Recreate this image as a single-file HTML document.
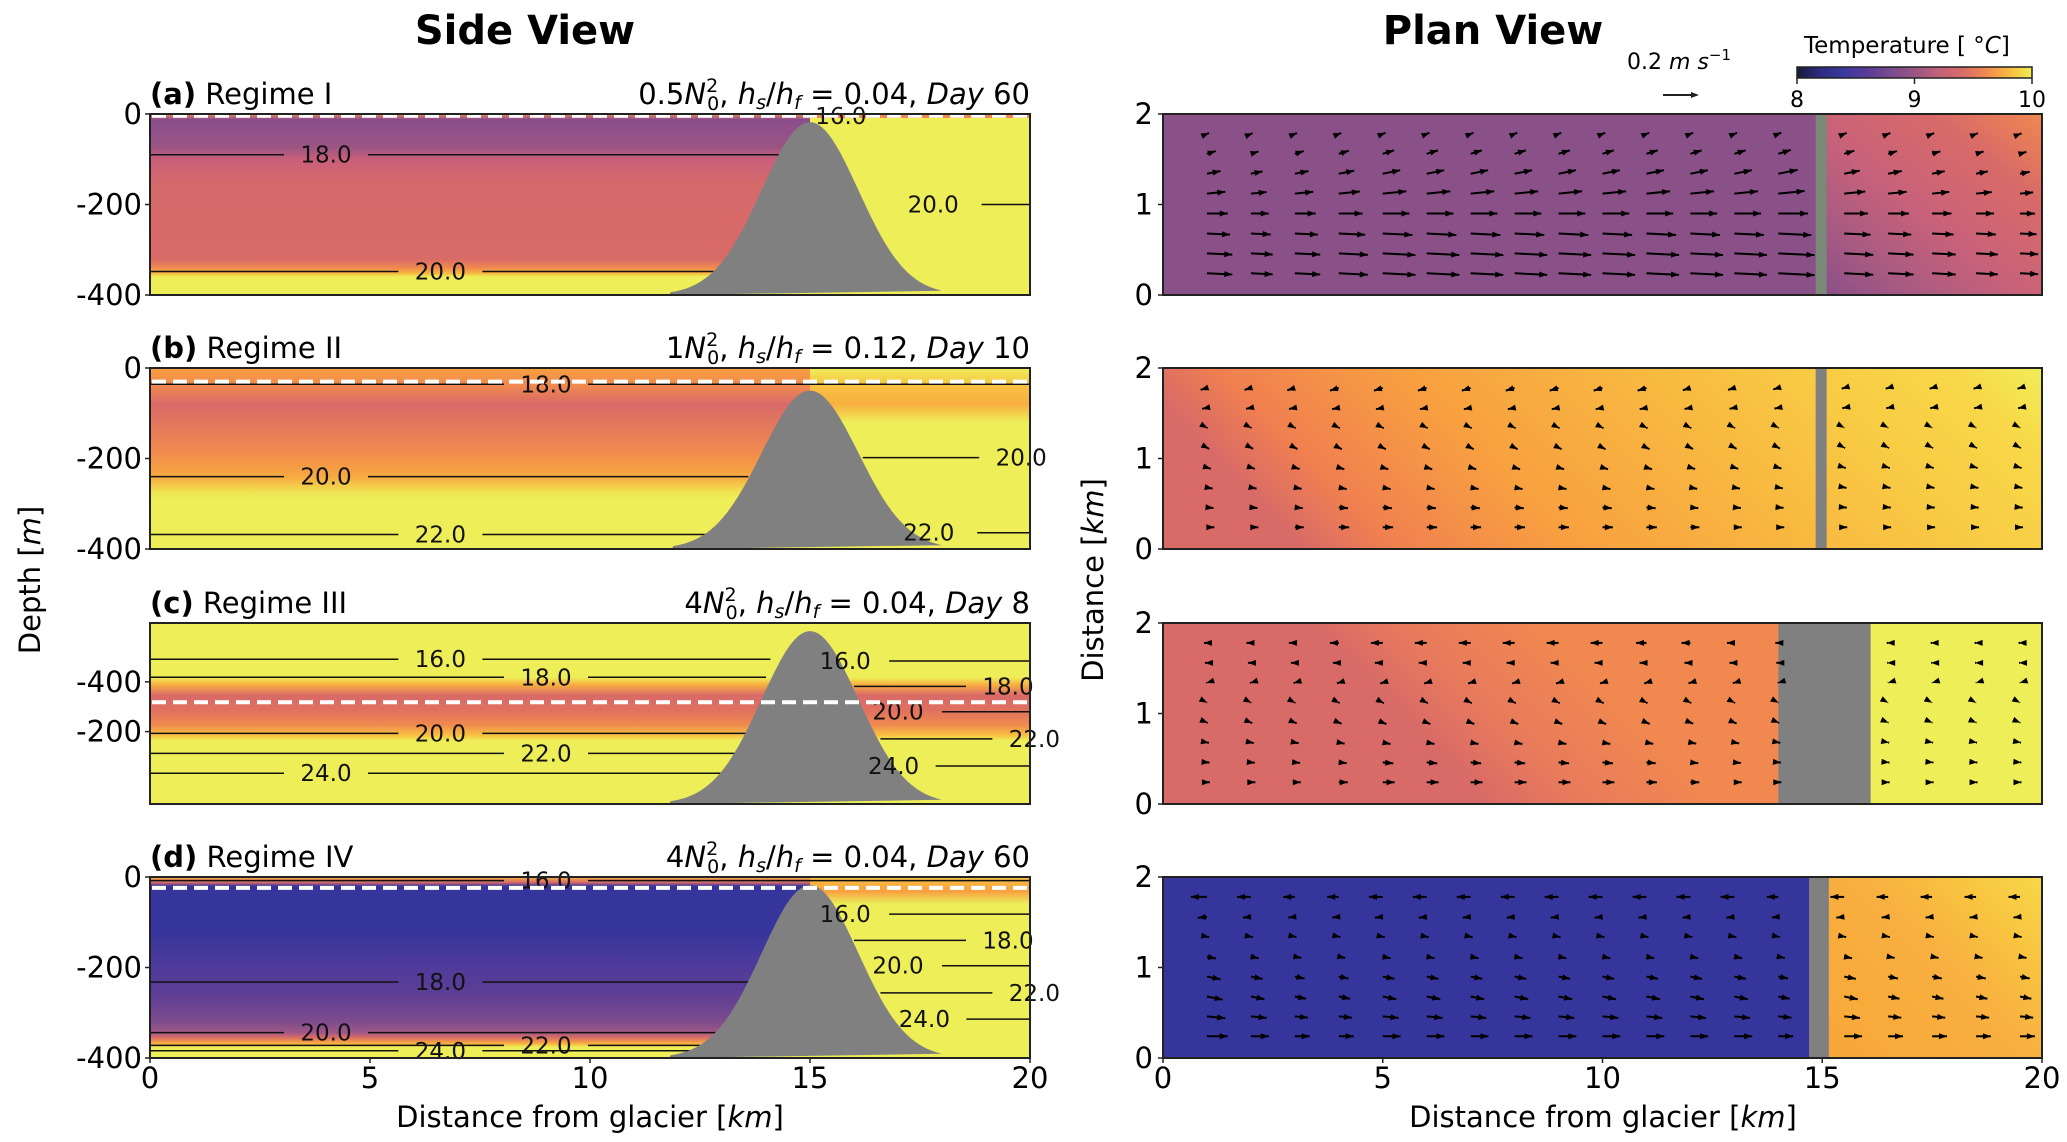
<!DOCTYPE html>
<html><head><meta charset="utf-8"><style>
html,body{margin:0;padding:0;background:#fff;}
svg{display:block;font-family:"DejaVu Sans","Liberation Sans",sans-serif;}
</style></head><body>
<svg id="fig" width="2067" height="1142" viewBox="0 0 2067 1142" xmlns="http://www.w3.org/2000/svg">
<defs>
<linearGradient id="cmap" x1="0" x2="1" y1="0" y2="0">
<stop offset="0" stop-color="#1a1a3a"/><stop offset="0.1" stop-color="#2c2c80"/><stop offset="0.2" stop-color="#3a3aa0"/>
<stop offset="0.3" stop-color="#5a3c98"/><stop offset="0.4" stop-color="#7a4a8e"/><stop offset="0.5" stop-color="#9a5484"/>
<stop offset="0.6" stop-color="#c0627a"/><stop offset="0.7" stop-color="#d86a68"/><stop offset="0.8" stop-color="#f08850"/>
<stop offset="0.9" stop-color="#f8b840"/><stop offset="1" stop-color="#f0f050"/></linearGradient>
<linearGradient id="sa" x1="0" x2="0" y1="0" y2="1">
<stop offset="0" stop-color="#f08a50"/><stop offset="0.03" stop-color="#8a4e8c"/><stop offset="0.18" stop-color="#9a5484"/>
<stop offset="0.25" stop-color="#c8607a"/><stop offset="0.4" stop-color="#d66a6a"/><stop offset="0.8" stop-color="#d86a68"/>
<stop offset="0.85" stop-color="#f08850"/><stop offset="0.88" stop-color="#f8b840"/><stop offset="0.9" stop-color="#eeee58"/><stop offset="1" stop-color="#eeee58"/></linearGradient>
<linearGradient id="sb" x1="0" x2="0" y1="0" y2="1">
<stop offset="0" stop-color="#f8a040"/><stop offset="0.1" stop-color="#f08850"/><stop offset="0.2" stop-color="#d86a68"/>
<stop offset="0.45" stop-color="#f08850"/><stop offset="0.6" stop-color="#f8a840"/><stop offset="0.68" stop-color="#f0e050"/><stop offset="0.72" stop-color="#eeee58"/><stop offset="1" stop-color="#eeee58"/></linearGradient>
<linearGradient id="sbr" x1="0" x2="0" y1="0" y2="1">
<stop offset="0" stop-color="#eeee58"/><stop offset="0.1" stop-color="#f8c040"/><stop offset="0.2" stop-color="#f8b040"/><stop offset="0.3" stop-color="#eeee58"/><stop offset="1" stop-color="#eeee58"/></linearGradient>
<linearGradient id="sc" x1="0" x2="0" y1="0" y2="1">
<stop offset="0" stop-color="#eeee58"/><stop offset="0.3" stop-color="#eeee58"/><stop offset="0.34" stop-color="#f8b040"/>
<stop offset="0.4" stop-color="#d86a68"/><stop offset="0.48" stop-color="#e07060"/><stop offset="0.56" stop-color="#f08850"/>
<stop offset="0.62" stop-color="#f8c040"/><stop offset="0.65" stop-color="#eeee58"/><stop offset="1" stop-color="#eeee58"/></linearGradient>
<linearGradient id="sd" x1="0" x2="0" y1="0" y2="1">
<stop offset="0" stop-color="#f8b040"/><stop offset="0.03" stop-color="#d86a68"/><stop offset="0.05" stop-color="#35359c"/>
<stop offset="0.3" stop-color="#35359c"/><stop offset="0.45" stop-color="#4a3a9c"/><stop offset="0.65" stop-color="#5e3e96"/>
<stop offset="0.8" stop-color="#7e4c8c"/><stop offset="0.86" stop-color="#a05888"/><stop offset="0.89" stop-color="#e07060"/>
<stop offset="0.92" stop-color="#f8b040"/><stop offset="0.94" stop-color="#eeee58"/><stop offset="1" stop-color="#eeee58"/></linearGradient>
<linearGradient id="sdr" x1="0" x2="0" y1="0" y2="1">
<stop offset="0" stop-color="#f8c040"/><stop offset="0.08" stop-color="#f8a040"/><stop offset="0.12" stop-color="#f0d050"/><stop offset="0.15" stop-color="#eeee58"/><stop offset="1" stop-color="#eeee58"/></linearGradient>
<linearGradient id="pa" x1="0" y1="1" x2="1" y2="0">
<stop offset="0" stop-color="#8a5088"/><stop offset="0.2" stop-color="#a85a82"/><stop offset="0.45" stop-color="#c8627a"/><stop offset="0.75" stop-color="#d86a68"/><stop offset="1" stop-color="#f08850"/></linearGradient>
<linearGradient id="pb" x1="0" y1="0.2" x2="1" y2="0">
<stop offset="0" stop-color="#d86a68"/><stop offset="0.1" stop-color="#f08050"/><stop offset="0.3" stop-color="#f8a040"/><stop offset="0.55" stop-color="#f8b840"/><stop offset="0.75" stop-color="#f8cc44"/><stop offset="0.9" stop-color="#f8d848"/><stop offset="1" stop-color="#f0ee58"/></linearGradient>
<linearGradient id="pc" x1="0" y1="0.2" x2="1" y2="0">
<stop offset="0" stop-color="#d86a68"/><stop offset="0.2" stop-color="#d86a68"/><stop offset="0.3" stop-color="#e87a5c"/><stop offset="0.45" stop-color="#f08850"/><stop offset="0.9" stop-color="#f08850"/><stop offset="1" stop-color="#f8a040"/></linearGradient>
<linearGradient id="pd" x1="0" y1="0.8" x2="1" y2="0">
<stop offset="0" stop-color="#f8a838"/><stop offset="0.5" stop-color="#f8b040"/><stop offset="0.75" stop-color="#f8c440"/><stop offset="1" stop-color="#f8d848"/></linearGradient>
</defs>
<g id="layer"></g>
</svg>
<script>
// ---- data ----
const xTicks = [0, 5, 10, 15, 20];
const depthTickLabels = [["0","-200","-400"],["0","-200","-400"],["-400","-200"],["0","-200","-400"]];
const depthTickValues = [[0,-200,-400],[0,-200,-400],[-130,-240],[0,-200,-400]];
const planTicks = [0, 1, 2];
const panelTitles = ["Regime I","Regime II","Regime III","Regime IV"];
const panelLetters = ["(a)","(b)","(c)","(d)"];
const panelN = ["0.5","1","4","4"];
const panelRatio = ["0.04","0.12","0.04","0.04"];
const panelDay = ["60","10","8","60"];
const hillPeakDepth = [18, 50, 18, 18];
const hillCenterKm = 15;
const dashedDepth = [4, 30, 175, 24];
// contours: [panel, label, depth, lineStartKm, lineEndKm, labelKm]
const contours = [
 [0,"18.0",90,0,14.3,4],[0,"20.0",348,0,13,6.6],[0,"20.0",200,18.9,20,17.8],[0,"16.0",4,15.4,15.8,15.7],
 [1,"18.0",36,0,20,9],[1,"20.0",240,0,13.6,4],[1,"22.0",368,0,12.7,6.6],[1,"20.0",198,16.2,19.2,19.8],[1,"22.0",364,18.8,20,17.7],
 [2,"16.0",80,0,14.1,6.6],[2,"18.0",120,0,14,9],[2,"20.0",244,0,13.8,6.6],[2,"22.0",288,0,13.5,9],[2,"24.0",332,0,13.2,4],
 [2,"16.0",84,16.8,20,15.8],[2,"18.0",140,16,18.7,19.5],[2,"20.0",196,18,20,17],[2,"22.0",256,16.6,19.3,20.1],[2,"24.0",316,17.8,20,16.9],
 [3,"16.0",8,0,20,9],[3,"18.0",232,0,13.7,6.6],[3,"20.0",344,0,13,4],[3,"22.0",372,0,12.5,9],[3,"24.0",384,0,12.3,6.6],
 [3,"16.0",82,16.8,20,15.8],[3,"18.0",140,16,18.7,19.5],[3,"20.0",196,18,20,17],[3,"22.0",256,16.6,19.3,20.1],[3,"24.0",314,17.6,20,17.6]
];
const quiverColsKm = [1,2,3,4,5,6,7,8,9,10,11,12,13,14,15.5,16.5,17.5,18.5,19.5];
const quiverRowsKm = [1.78,1.56,1.34,1.12,0.9,0.68,0.46,0.24];
const planColU = [
 [0.14,0.12,0.14,0.16,0.18,0.18,0.18,0.18,0.18,0.18,0.18,0.18,0.18,0.2,0.16,0.14,0.13,0.12,0.1],
 [0.05,0.05,0.06,0.07,0.07,0.07,0.07,0.07,0.07,0.07,0.07,0.06,0.05,0.04,0.02,0.02,0.02,0.02,0.02],
 [0.02,0.03,0.04,0.06,0.08,0.08,0.08,0.08,0.08,0.08,0.07,0.06,0.05,0.02,0.01,0.01,0.01,0.01,0.01],
 [0.14,0.12,0.1,0.1,0.12,0.12,0.12,0.12,0.12,0.12,0.12,0.12,0.12,0.1,0.12,0.1,0.1,0.1,0.1]
];
const planRowF = [
 [0.1,0.4,0.6,0.8,0.9,1,1.1,1.1],
 [-0.8,-0.6,0.1,0.3,0.5,0.7,0.8,0.9],
 [-0.9,-0.6,-0.2,0.1,0.3,0.6,0.8,0.9],
 [-0.7,-0.4,0.1,0.4,0.6,0.7,0.8,0.9]
];
const planRowAngle = [
 [-0.4,-0.3,-0.2,-0.1,0,0.05,0.05,0.05],
 [0.3,0.2,0.5,0.5,0.3,0.2,0.1,0],
 [0,0,0.3,0.5,0.4,0.2,0.1,0],
 [0,0.1,0.2,0.2,0.2,0.2,0.1,0]
];
const planBarKm = [[14.85,15.1],[14.85,15.1],[14.0,16.1],[14.7,15.15]];
const cbTicks = [8, 9, 10];

// ---- layout ----
const NS = "http://www.w3.org/2000/svg";
const L = document.getElementById('layer');
const sideX0 = 150, sideX1 = 1030, planX0 = 1163, planX1 = 2042;
const tops = [114, 368, 623, 877], H = 181;
function el(tag, attrs, parent) { const e = document.createElementNS(NS, tag); for (const k in attrs) e.setAttribute(k, attrs[k]); (parent || L).appendChild(e); return e; }
function txt(s, attrs, parent) { const e = el('text', attrs, parent); e.textContent = s; return e; }
const sx = km => sideX0 + km / 20 * (sideX1 - sideX0);
const px = km => planX0 + km / 20 * (planX1 - planX0);
const dy = (i, d) => tops[i] + d / 400 * H;
const py = (i, v) => tops[i] + H - v / 2 * H;

let t = txt("Side View", {x: 525, y: 44, 'font-size': 40, 'font-weight': 'bold', 'text-anchor': 'middle'});
 
t = txt("Plan View", {x: 1493, y: 44, 'font-size': 40, 'font-weight': 'bold', 'text-anchor': 'middle'});
 

const sideFill = ["url(#sa)","url(#sb)","url(#sc)","url(#sd)"];
const sideRightFill = ["#eeee58","url(#sbr)","url(#sc)","url(#sdr)"];
const planFill = ["#8a5088","url(#pb)","url(#pc)","#35359c"];

for (let i = 0; i < 4; i++) {
  const top = tops[i];
  const g = el('g', {});
  
  
  let r = el('rect', {x: sideX0, y: top, width: sideX1 - sideX0, height: H, fill: sideFill[i]}, g);
   
  r = el('rect', {x: sx(hillCenterKm), y: top, width: sideX1 - sx(hillCenterKm), height: H, fill: sideRightFill[i]}, g);
   
  if (i === 0) { el('rect', {x: sx(15), y: top, width: sideX1 - sx(15), height: 4, fill: '#f08850'}, g); }
  const cs = contours.filter(c => c[0] === i);
  cs.forEach(c => {
    const y = dy(i, c[2]);
    const lx = sx(c[5]);
    const gap = 42;
    const a = sx(c[3]), b = sx(c[4]);
    if (lx - gap > a) { const l = el('line', {x1: a, x2: Math.min(b, lx - gap), y1: y, y2: y, stroke: '#111', 'stroke-width': 1.5}, g);   }
    if (lx + gap < b) { const l = el('line', {x1: Math.max(a, lx + gap), x2: b, y1: y, y2: y, stroke: '#111', 'stroke-width': 1.5}, g);   }
  });
  let d = '';
  const sig = 1.1;
  for (let k = 0; k <= 200; k++) {
    const km = 11.8 + k * 6.2 / 200;
    const z = 400 - (400 - hillPeakDepth[i]) * Math.exp(-Math.pow(km - hillCenterKm, 2) / (2 * sig * sig));
    d += (k ? 'L' : 'M') + sx(km).toFixed(1) + ',' + dy(i, z > 394 ? 400 : z).toFixed(1);
  }
  d += 'Z';
  const hill = el('path', {d: d, fill: '#808080'}, g);
   
  cs.forEach(c => {
    const y = dy(i, c[2]);
    const lx = sx(c[5]);
    const lb = txt(c[1], {x: Math.min(lx, sideX1 + 6), y: y + 8, 'font-size': 23, 'text-anchor': 'middle', fill: '#111'}, g);
     
  });
  const dl = el('line', {x1: sideX0 + 2, x2: sideX1, y1: dy(i, dashedDepth[i]), y2: dy(i, dashedDepth[i]), stroke: '#fff', 'stroke-width': 4, 'stroke-dasharray': '14,7'}, g);
   
  el('rect', {x: sideX0, y: top, width: sideX1 - sideX0, height: H, fill: 'none', stroke: '#222', 'stroke-width': 2}, g);
  depthTickValues[i].forEach((v, k) => {
    const y = dy(i, -v);
    el('line', {x1: sideX0 - 5, x2: sideX0, y1: y, y2: y, stroke: '#222', 'stroke-width': 1.5}, g);
    const tl = txt(depthTickLabels[i][k], {x: sideX0 - 8, y: y + 10, 'font-size': 29, 'text-anchor': 'end'}, g);
     
  });
  const pt = el('text', {x: sideX0, y: top - 10, 'font-size': 29}, g);
   
  pt.innerHTML = '<tspan font-weight="bold">' + panelLetters[i] + '</tspan> ' + panelTitles[i];
  const pr = el('text', {x: sideX1, y: top - 10, 'font-size': 29, 'text-anchor': 'end'}, g);
   
  pr.innerHTML = panelN[i] + '<tspan font-style="italic">N</tspan><tspan font-size="19" dy="-12">2</tspan><tspan font-size="19" dx="-11" dy="18">0</tspan><tspan dy="-6">, </tspan><tspan font-style="italic">h</tspan><tspan font-size="19" font-style="italic" dy="5">s</tspan><tspan dy="-5">/</tspan><tspan font-style="italic">h</tspan><tspan font-size="19" font-style="italic" dy="5">f</tspan><tspan dy="-5"> = ' + panelRatio[i] + ', </tspan><tspan font-style="italic">Day</tspan> ' + panelDay[i];

  const gp = el('g', {});
  
  
  r = el('rect', {x: planX0, y: top, width: planX1 - planX0, height: H, fill: planFill[i]}, gp);
   
  if (i === 0) { r = el('rect', {x: px(15.1), y: top, width: planX1 - px(15.1), height: H, fill: 'url(#pa)'}, gp);   }
  if (i === 2) { r = el('rect', {x: px(16.1), y: top, width: planX1 - px(16.1), height: H, fill: '#eeee58'}, gp);   }
  if (i === 3) { r = el('rect', {x: px(15), y: top, width: planX1 - px(15), height: H, fill: 'url(#pd)'}, gp);   }
  const bar = el('rect', {x: px(planBarKm[i][0]), y: top, width: px(planBarKm[i][1]) - px(planBarKm[i][0]), height: H, fill: i === 0 ? '#7a8a78' : '#808080'}, gp);
   
  quiverRowsKm.forEach((yk, ri) => {
    quiverColsKm.forEach((xk, ci) => {
      if (i === 2 && xk > 14 && xk < 16.1) return;
      const u = planColU[i][ci] * planRowF[i][ri];
      const ang = planRowAngle[i][ri];
      const len = u * 165;
      const x0 = px(xk), y0 = py(i, yk);
      const x1 = x0 + len * Math.cos(ang), y1 = y0 + Math.abs(len) * Math.sin(ang);
      const ar = el('line', {x1: x0, y1: y0, x2: x1, y2: y1, stroke: '#000', 'stroke-width': 2}, gp);
       
      const hx = (x1 - x0), hy = (y1 - y0), n = Math.hypot(hx, hy) || 1;
      const ux = hx / n, uy = hy / n, hs = 5;
      el('path', {d: `M${x1},${y1}L${x1 - ux * hs * 1.6 - uy * hs * 0.6},${y1 - uy * hs * 1.6 + ux * hs * 0.6}L${x1 - ux * hs * 1.6 + uy * hs * 0.6},${y1 - uy * hs * 1.6 - ux * hs * 0.6}Z`, fill: '#000'}, gp);
    });
  });
  el('rect', {x: planX0, y: top, width: planX1 - planX0, height: H, fill: 'none', stroke: '#222', 'stroke-width': 2}, gp);
  planTicks.forEach(v => {
    const y = py(i, v);
    el('line', {x1: planX0 - 5, x2: planX0, y1: y, y2: y, stroke: '#222', 'stroke-width': 1.5}, gp);
    const tl = txt(String(v), {x: planX0 - 10, y: y + 10, 'font-size': 29, 'text-anchor': 'end'}, gp);
     
  });
}
xTicks.forEach(v => {
  [[sx, 'side'], [px, 'plan']].forEach(([f, n]) => {
    const x = f(v);
    el('line', {x1: x, x2: x, y1: tops[3] + H, y2: tops[3] + H + 5, stroke: '#222', 'stroke-width': 1.5});
    const tl = txt(String(v), {x: x, y: 1088, 'font-size': 29, 'text-anchor': 'middle'});
     
  });
});
let at = el('text', {x: 590, y: 1127, 'font-size': 29, 'text-anchor': 'middle'});
at.innerHTML = 'Distance from glacier [<tspan font-style="italic">km</tspan>]';
 
at = el('text', {x: 1603, y: 1127, 'font-size': 29, 'text-anchor': 'middle'});
at.innerHTML = 'Distance from glacier [<tspan font-style="italic">km</tspan>]';
 
at = el('text', {x: 0, y: 0, 'font-size': 29, 'text-anchor': 'middle', transform: 'translate(40,580) rotate(-90)'});
at.innerHTML = 'Depth [<tspan font-style="italic">m</tspan>]';
 
at = el('text', {x: 0, y: 0, 'font-size': 29, 'text-anchor': 'middle', transform: 'translate(1103,580) rotate(-90)'});
at.innerHTML = 'Distance [<tspan font-style="italic">km</tspan>]';
 
const cbX0 = 1797, cbX1 = 2032;
let cb = el('rect', {x: cbX0, y: 67, width: cbX1 - cbX0, height: 11, fill: 'url(#cmap)', stroke: '#222', 'stroke-width': 1.5});
 
cbTicks.forEach(v => {
  const x = cbX0 + (v - 8) / 2 * (cbX1 - cbX0);
  el('line', {x1: x, x2: x, y1: 78, y2: 84, stroke: '#222', 'stroke-width': 1.5});
  const tl = txt(String(v), {x: x, y: 107, 'font-size': 22, 'text-anchor': 'middle'});
   
});
at = el('text', {x: 1804, y: 53, 'font-size': 23});
at.innerHTML = 'Temperature [ °<tspan font-style="italic">C</tspan>]';
 
at = el('text', {x: 1627, y: 69, 'font-size': 22});
at.innerHTML = '0.2 <tspan font-style="italic">m s</tspan><tspan font-size="15" dy="-9">−1</tspan>';
 
at = el('line', {x1: 1663, x2: 1693, y1: 95, y2: 95, stroke: '#222', 'stroke-width': 2});
 
el('path', {d: 'M1699,95L1691,92L1691,98Z', fill: '#222'});
</script>
</body></html>
